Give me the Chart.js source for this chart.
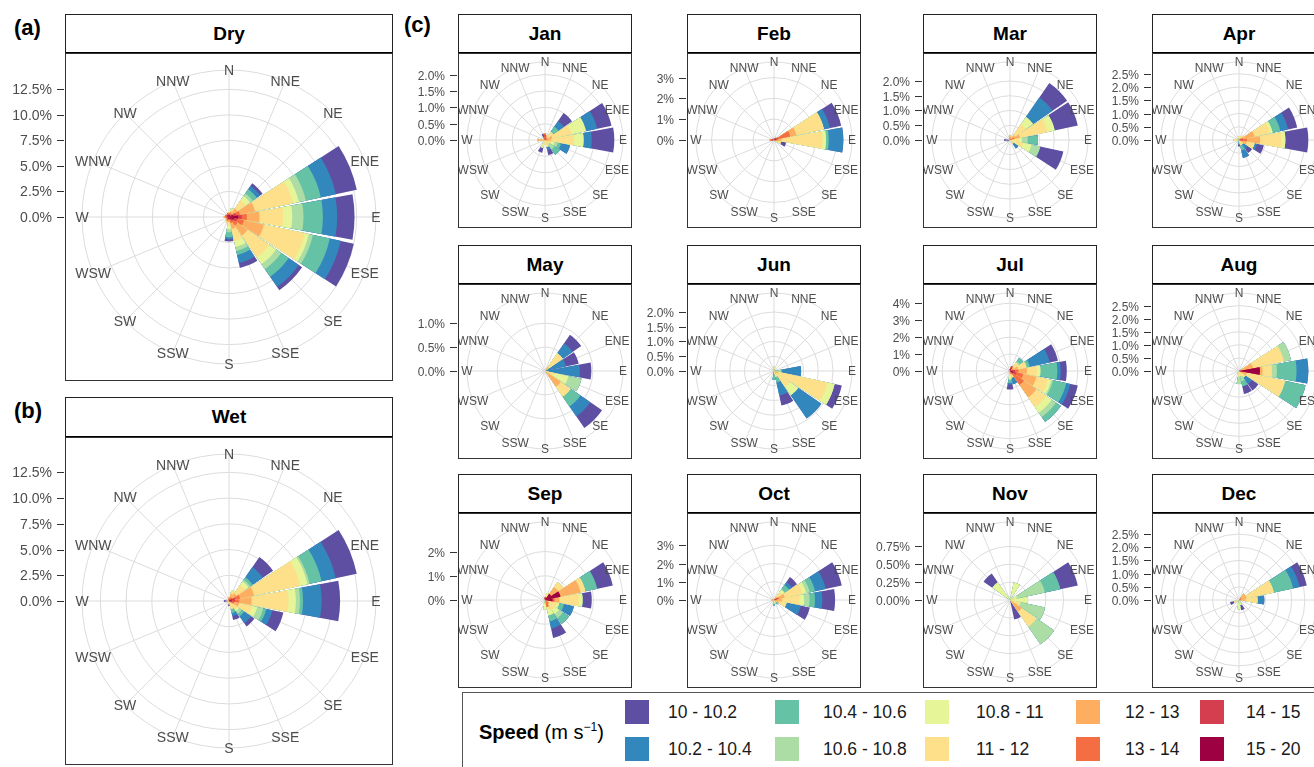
<!DOCTYPE html>
<html>
<head>
<meta charset="utf-8">
<script src="https://cdn.jsdelivr.net/npm/chart.js@4.4.0/dist/chart.umd.min.js"></script>
<style>
  body { margin: 0; width: 1314px; height: 767px; overflow: hidden; background: #fff; position: relative;
         font-family: "Liberation Sans", Arial, sans-serif; }
  canvas { position: absolute; }
  .strip { position: absolute; box-sizing: border-box; border: 1px solid #222; border-bottom: 2px solid #000;
           background: #fff; display: flex; align-items: center; justify-content: center;
           font-weight: bold; font-size: 19px; color: #000; z-index: 2; }
  .box { position: absolute; box-sizing: border-box; border: 1px solid #333; pointer-events: none; z-index: 2; }
  .tag { position: absolute; font-weight: bold; font-size: 22px; color: #000; }
  .legend { position: absolute; left: 462px; top: 692px; width: 900px; height: 100px; box-sizing: border-box;
            border: 1px solid #555; background: #fff; }
  .legtitle { position: absolute; left: 479px; top: 720px; font-size: 20px; color: #000; }
  .sw { position: absolute; width: 24px; height: 24px; }
  .lt { position: absolute; font-size: 17.5px; color: #1a1a1a; line-height: 24px; }
</style>
</head>
<body>
<div class="tag" style="left:14px;top:15px;">(a)</div>
<div class="tag" style="left:14px;top:398px;">(b)</div>
<div class="tag" style="left:404px;top:12px;">(c)</div>
<div class="legend"></div>
<div class="legtitle"><b>Speed</b> (m s<sup style="font-size:12px">−1</sup>)</div>
<div id="root"></div>
<script>
// wind directions, clockwise from north
const directions = ['N','NNE','NE','ENE','E','ESE','SE','SSE','S','SSW','SW','WSW','W','WNW','NW','NNW'];
// speed classes (m/s), legend order
const speedBins = ['10 - 10.2','10.2 - 10.4','10.4 - 10.6','10.6 - 10.8','10.8 - 11','11 - 12','12 - 13','13 - 14','14 - 15','15 - 20'];
const binColors = ['#5E4FA2','#3288BD','#66C2A5','#ABDDA4','#E6F598','#FEE08B','#FDAE61','#F46D43','#D53E4F','#9E0142'];

// frequency (%) : one row per direction (N ... NNW), one column per speed class (10-10.2 ... 15-20)
const dry = [
  [0,0,0,0,0,0,0.1,0.1,0.1,0.2],
  [0,0,0,0,0.1,0.2,0.2,0.1,0.1,0.2],
  [0.3,0.4,0.5,0.3,0.5,1.0,0.6,0.2,0.1,0.1],
  [2.1,1.5,1.5,0.7,0.6,3.8,1.5,0.4,0.3,0.4],
  [1.7,1.4,1.9,1.1,0.9,2.3,1.25,0.5,0.35,0.9],
  [1.3,1.1,1.7,0.4,0.4,4.1,2.0,0.7,0.3,0.5],
  [0.4,1.2,0.9,0.6,0.8,2.6,1.2,0.5,0.2,0.3],
  [0.5,0.8,0.4,0.4,0.6,1.2,0.6,0.3,0.1,0.2],
  [0.2,0.2,0.5,0.3,0.4,0.3,0.2,0.1,0.1,0.1],
  [0,0,0,0,0,0.1,0.1,0.1,0.1,0.2],
  [0,0,0,0,0,0,0.1,0.1,0.1,0.1],
  [0,0,0,0,0,0,0,0.1,0.1,0.1],
  [0,0,0,0,0,0,0.1,0.1,0.1,0.2],
  [0,0,0,0,0,0,0,0.1,0.1,0.2],
  [0,0,0,0,0,0,0,0,0.1,0.2],
  [0.1,0,0,0,0,0,0,0,0.1,0.2]
];
const wet = [
  [0,0,0,0,0,0,0.1,0.1,0.1,0.1],
  [0,0,0,0,0.1,0.3,0.3,0.2,0.1,0.1],
  [1.2,1.2,0.3,0.2,0.4,1.0,0.5,0.2,0.1,0.1],
  [2.1,1.4,1.2,0.2,0.7,4.6,1.4,0.5,0.3,0.3],
  [1.8,1.8,0.3,0.4,0.7,3.6,1.2,0.4,0.3,0.3],
  [1.1,0.6,0.3,0.6,0.5,1.3,0.5,0.3,0.1,0.1],
  [0.4,0.8,0.3,0.3,0.2,0.8,0.2,0,0,0],
  [0.4,0.3,0.4,0,0,0.5,0.3,0,0,0],
  [0.2,0,0,0,0,0.2,0.1,0,0,0],
  [0,0,0,0,0,0.1,0.1,0,0,0],
  [0,0,0,0,0,0,0.1,0,0,0],
  [0.2,0,0,0,0,0,0,0,0,0],
  [0.3,0,0,0,0,0.1,0.1,0,0,0],
  [0,0,0,0,0,0,0.1,0,0,0],
  [0,0,0,0,0,0,0.1,0,0,0],
  [0,0,0,0,0,0,0.1,0,0,0]
];
const jan = [
  [0,0,0,0,0,0,0,0.05,0.1,0.05],
  [0,0,0,0,0,0,0.05,0.05,0.05,0],
  [0.3,0.2,0.2,0,0,0.2,0.1,0,0,0],
  [0.45,0.35,0,0,0.45,0.6,0.15,0.05,0.03,0],
  [0.69,0.25,0,0,0.3,0.7,0.1,0.05,0.03,0],
  [0,0.28,0.1,0.1,0.1,0.2,0,0,0,0],
  [0,0,0.2,0.2,0,0.15,0,0,0,0],
  [0.15,0.1,0,0,0,0.2,0.02,0,0,0],
  [0,0,0,0,0.05,0.1,0,0,0,0],
  [0.15,0,0,0,0.15,0.1,0,0,0,0],
  [0,0,0,0,0,0,0,0,0,0],
  [0,0,0,0,0,0.05,0,0,0,0],
  [0,0,0,0,0,0,0.2,0.03,0,0],
  [0,0,0,0,0,0,0,0,0,0],
  [0,0,0,0,0,0,0,0.05,0,0],
  [0.15,0,0,0,0,0,0,0,0.05,0]
];
const feb = [
  [0,0,0,0,0,0,0,0,0.05,0.05],
  [0,0,0,0,0,0,0,0,0,0],
  [0,0,0,0,0,0,0,0.05,0.05,0.05],
  [0.55,0.3,0,0,0,1.35,0.3,0.6,0.1,0.1],
  [0,0.7,0.13,0,0.16,1.99,0.15,0.1,0.05,0.05],
  [0.25,0,0,0,0,0.35,0,0,0,0],
  [0,0,0,0,0,0.1,0,0,0,0],
  [0,0,0,0,0,0,0,0,0,0],
  [0,0,0,0,0,0,0,0,0,0],
  [0,0,0,0,0,0,0,0,0,0],
  [0,0,0,0,0,0,0,0,0,0],
  [0,0,0,0,0,0,0,0,0,0],
  [0,0,0,0,0,0,0,0.05,0.05,0.1],
  [0,0,0,0,0,0,0,0,0,0],
  [0,0,0,0,0,0,0,0,0,0],
  [0,0,0,0,0,0,0,0,0,0]
];
const mar = [
  [0,0,0,0,0,0,0.05,0.05,0.05,0],
  [0,0,0,0,0,0.05,0.05,0,0,0],
  [0.6,0.8,0,0,0.3,0.45,0.15,0.05,0,0],
  [0.8,0,0,0,0.25,0.95,0.2,0.1,0.05,0],
  [0,0,0.35,0.2,0.1,0.3,0,0,0,0],
  [0.8,0,0,0.3,0.3,0.45,0,0,0,0],
  [0,0.2,0,0,0,0.15,0,0,0,0],
  [0,0,0,0,0,0,0,0,0,0],
  [0,0,0,0,0,0,0,0,0,0],
  [0,0,0,0,0,0,0,0,0,0],
  [0,0,0,0,0,0,0,0,0,0],
  [0.1,0,0,0,0,0,0,0,0,0],
  [0.2,0,0,0,0,0,0,0,0,0],
  [0,0,0,0,0,0,0,0,0,0],
  [0,0,0,0,0,0,0,0,0,0],
  [0,0,0,0,0,0,0,0,0,0]
];
const apr = [
  [0,0,0,0,0,0.15,0,0,0,0],
  [0,0,0,0,0,0.1,0.05,0,0,0],
  [0,0,0,0,0,0.1,0.1,0,0,0],
  [0.35,0.3,0.3,0,0.1,0.6,0.45,0.1,0.05,0],
  [0.87,0,0,0,0.15,0.8,0.5,0.15,0.1,0.05],
  [0.26,0.1,0,0,0,0.3,0.3,0,0,0],
  [0.2,0.2,0,0,0,0.2,0,0,0,0],
  [0,0.3,0.2,0,0,0.2,0,0,0,0],
  [0.1,0,0.1,0,0,0.05,0,0,0,0],
  [0,0,0,0,0,0,0,0,0,0],
  [0,0,0,0,0,0,0,0,0,0],
  [0,0,0,0,0,0,0,0,0,0],
  [0,0,0,0,0,0.2,0,0,0,0],
  [0,0,0,0,0,0,0,0,0,0],
  [0,0,0,0,0,0,0,0,0,0],
  [0,0,0,0,0,0,0,0,0,0]
];
const may = [
  [0,0,0,0,0,0,0,0,0,0],
  [0,0,0,0,0,0,0,0,0,0],
  [0.22,0.25,0,0,0,0.35,0.1,0,0,0],
  [0.27,0.45,0,0,0,0,0,0,0,0],
  [0.24,0.73,0,0,0,0,0,0,0,0],
  [0,0,0,0.28,0.3,0.2,0,0,0,0],
  [0.3,0.25,0.25,0,0,0.25,0.4,0,0,0],
  [0,0,0,0,0,0,0,0,0,0],
  [0,0,0,0,0,0,0,0,0,0],
  [0,0,0,0,0,0,0,0,0,0],
  [0,0,0,0,0,0,0,0,0,0],
  [0,0,0,0,0,0,0,0,0,0],
  [0,0,0,0,0,0,0,0,0,0],
  [0,0,0,0,0,0,0,0,0,0],
  [0,0,0,0,0,0,0,0,0,0],
  [0,0,0,0,0,0,0,0,0,0]
];
const jun = [
  [0,0,0,0,0,0.15,0,0,0,0],
  [0,0,0,0,0,0,0,0,0,0],
  [0,0,0,0,0,0,0,0,0,0],
  [0,0,0,0,0,0,0,0,0,0],
  [0,0.67,0,0.25,0,0,0,0,0,0],
  [0.25,0,0,0,0.25,1.7,0.15,0,0,0],
  [0,0.95,0,0,0.35,0.55,0.1,0,0,0],
  [0.35,0.45,0.2,0,0,0.2,0,0,0,0],
  [0,0,0.3,0,0,0,0,0,0,0],
  [0,0,0,0,0,0,0,0,0,0],
  [0,0,0,0,0,0,0,0,0,0],
  [0,0,0,0,0,0,0,0,0,0],
  [0,0,0,0,0,0,0,0,0,0],
  [0,0,0,0,0,0,0,0,0,0],
  [0,0,0,0,0,0,0,0,0,0],
  [0,0,0,0,0,0,0,0,0,0]
];
const jul = [
  [0,0,0,0,0,0,0,0,0,0.1],
  [0,0,0,0,0,0,0,0,0.1,0.2],
  [0,0,0.25,0.1,0,0.3,0.3,0,0,0],
  [0.5,1.2,0.2,0,0,0.5,0.3,0.1,0.1,0],
  [0.36,0.2,1.0,0,0.2,0.6,0.5,0.2,0.1,0.2],
  [0.45,0.25,0.8,0.1,0.2,0.7,0.8,0.4,0.2,0.2],
  [0,0,0.35,0.3,0.4,0.7,0.9,0.8,0.1,0.1],
  [0,0.4,0,0,0,0.2,0,0.2,0,0],
  [0.3,0.1,0.2,0,0.2,0.3,0,0,0,0],
  [0,0,0,0,0,0,0,0,0,0],
  [0,0,0,0,0,0,0,0,0,0],
  [0,0,0,0,0,0,0,0,0,0],
  [0.1,0,0,0,0,0,0,0,0,0],
  [0,0,0,0,0,0,0,0,0,0],
  [0,0,0,0,0,0,0,0,0,0],
  [0,0,0,0,0,0,0,0,0,0]
];
const aug = [
  [0,0,0,0,0,0,0,0,0,0],
  [0,0,0,0,0,0,0,0,0,0],
  [0,0,0,0,0,0,0,0,0,0],
  [0,0,0,0.28,0,1.2,0.5,0,0.05,0],
  [0,0.45,0.75,0.2,0,0.35,0.1,0,0,0.8],
  [0,0,0.8,0,0,1.5,0.2,0.1,0,0],
  [0.3,0.3,0,0,0,0.3,0,0,0,0],
  [0.3,0,0.2,0.2,0,0.2,0,0,0,0],
  [0,0,0,0.3,0,0.2,0,0,0,0],
  [0,0,0,0,0,0.1,0,0,0,0],
  [0,0,0,0,0,0,0,0,0,0],
  [0,0,0,0,0,0,0,0,0,0],
  [0,0,0,0,0,0,0,0,0,0],
  [0,0,0,0,0,0,0,0,0,0],
  [0,0,0,0,0,0,0,0,0,0],
  [0,0,0,0,0,0,0,0,0,0]
];
const sep = [
  [0,0,0,0,0,0,0,0,0,0.1],
  [0,0,0,0,0,0.2,0,0,0,0.1],
  [0,0,0,0,0,0.25,0.35,0,0,0.3],
  [0.66,0,0.5,0,0,0.2,0.85,0,0,0.65],
  [0.38,0,0,0,0.15,0.8,0.2,0.05,0.05,0.3],
  [0,0.42,0.2,0,0.1,0.5,0,0,0,0],
  [0,0,0.3,0.2,0.2,0.3,0,0.2,0,0],
  [0.4,0.3,0.25,0,0.2,0.15,0,0.3,0,0],
  [0,0,0,0,0.3,0.1,0,0,0,0],
  [0,0,0,0,0,0,0,0,0,0],
  [0,0,0,0,0,0,0,0,0,0],
  [0,0,0,0,0,0,0,0,0,0],
  [0,0,0,0,0,0,0,0,0,0],
  [0,0,0,0,0,0,0,0,0,0],
  [0,0,0,0,0,0,0,0,0,0],
  [0,0,0,0,0,0,0,0,0,0]
];
const oct = [
  [0,0,0,0,0,0.05,0,0,0,0],
  [0,0,0,0,0,0,0.05,0.05,0,0],
  [0.33,0.2,0.3,0,0.2,0.3,0.2,0,0,0],
  [0.9,0.6,0.3,0.2,0.2,1.0,0.3,0.1,0.1,0.1],
  [0.7,0.4,0.3,0.3,0.25,0.95,0.3,0.1,0.05,0],
  [0.5,0.8,0,0,0,0.4,0.3,0,0,0],
  [0,0,0.2,0,0,0.1,0,0,0,0],
  [0,0,0,0,0.1,0.1,0,0,0,0],
  [0,0,0.1,0,0.2,0,0,0,0,0],
  [0,0,0,0,0,0,0,0,0,0],
  [0,0,0,0,0,0,0,0,0,0],
  [0,0,0,0,0,0,0,0,0,0],
  [0,0,0,0,0,0,0.05,0.1,0,0],
  [0,0,0,0,0,0,0,0,0,0],
  [0,0,0,0,0,0,0,0,0,0],
  [0,0,0,0,0,0,0,0,0,0]
];
const nov = [
  [0,0,0,0,0,0,0,0,0,0],
  [0,0,0,0,0.25,0,0,0,0,0],
  [0,0,0,0,0,0,0,0,0,0],
  [0.25,0,0.22,0.4,0.05,0.05,0,0,0,0],
  [0,0,0,0,0.25,0,0,0,0,0],
  [0,0,0,0.35,0,0.15,0,0,0,0],
  [0,0,0,0.3,0,0.25,0.2,0,0,0],
  [0.28,0,0,0,0,0,0,0,0,0],
  [0,0,0,0,0,0,0,0,0,0],
  [0,0,0,0,0,0,0,0,0,0],
  [0,0,0,0,0,0,0,0,0,0],
  [0,0,0,0,0,0,0,0,0,0],
  [0,0,0,0,0,0,0,0,0,0],
  [0,0,0,0,0,0,0,0,0,0],
  [0.15,0,0,0,0.3,0,0,0,0,0],
  [0,0,0,0,0,0,0,0,0,0]
];
const dec = [
  [0,0,0,0,0,0,0,0,0,0],
  [0,0,0,0,0,0,0,0,0,0],
  [0,0,0,0,0,0,0.2,0.1,0,0],
  [0.28,0.25,0.75,0,0,1.05,0.2,0.1,0,0],
  [0,0.26,0,0,0,0.45,0.2,0.05,0,0],
  [0,0,0,0,0,0,0,0,0,0],
  [0,0,0,0,0,0,0,0,0,0],
  [0.2,0,0,0,0.2,0,0,0,0,0],
  [0,0,0,0,0.35,0,0,0,0,0],
  [0,0,0,0,0,0,0,0,0,0],
  [0,0,0,0,0,0,0,0,0,0],
  [0.15,0,0,0,0,0.2,0,0,0,0],
  [0,0,0,0,0,0,0,0,0,0],
  [0,0,0,0,0,0,0,0,0,0],
  [0,0,0,0,0,0,0,0,0,0],
  [0,0,0,0,0,0,0,0,0,0]
];

// radial axis breaks (%) and decimals shown
const ticksBig = [0, 2.5, 5, 7.5, 10, 12.5];
const ticksHalf2 = [0, 0.5, 1, 1.5, 2];
const ticksHalf25 = [0, 0.5, 1, 1.5, 2, 2.5];
const ticksHalf1 = [0, 0.5, 1];
const ticksOne2 = [0, 1, 2];
const ticksOne3 = [0, 1, 2, 3];
const ticksOne4 = [0, 1, 2, 3, 4];
const ticksQuarter = [0, 0.25, 0.5, 0.75];

// layout of the panels
const colX = [458, 687, 923, 1152];
const rowStrip = [14, 245, 474];
const rowBox = [53, 284, 513];
const panels = [
  { title: 'Dry', freq: dry, ticks: ticksBig, dec: 1, x: 65, strip: 14, y: 53, w: 328, h: 328, axisW: 65, font: 14 },
  { title: 'Wet', freq: wet, ticks: ticksBig, dec: 1, x: 65, strip: 397, y: 437, w: 328, h: 328, axisW: 65, font: 14 },
  { title: 'Jan', freq: jan, ticks: ticksHalf2, dec: 1, c: 0, r: 0 },
  { title: 'Feb', freq: feb, ticks: ticksOne3, dec: 0, c: 1, r: 0 },
  { title: 'Mar', freq: mar, ticks: ticksHalf2, dec: 1, c: 2, r: 0 },
  { title: 'Apr', freq: apr, ticks: ticksHalf25, dec: 1, c: 3, r: 0 },
  { title: 'May', freq: may, ticks: ticksHalf1, dec: 1, c: 0, r: 1 },
  { title: 'Jun', freq: jun, ticks: ticksHalf2, dec: 1, c: 1, r: 1 },
  { title: 'Jul', freq: jul, ticks: ticksOne4, dec: 0, c: 2, r: 1 },
  { title: 'Aug', freq: aug, ticks: ticksHalf25, dec: 1, c: 3, r: 1 },
  { title: 'Sep', freq: sep, ticks: ticksOne2, dec: 0, c: 0, r: 2 },
  { title: 'Oct', freq: oct, ticks: ticksOne3, dec: 0, c: 1, r: 2 },
  { title: 'Nov', freq: nov, ticks: ticksQuarter, dec: 2, c: 2, r: 2 },
  { title: 'Dec', freq: dec, ticks: ticksHalf25, dec: 1, c: 3, r: 2 }
];

// 16 bars with a small gap; north bar is split in two halves so that
// bar centres sit on the compass spokes
const GAP = 1.6;
const BAR = 22.5 - GAP;
const sectors = [[0, BAR / 2]];
for (let d = 1; d < 16; d++) { sectors.push([-1, GAP]); sectors.push([d, BAR]); }
sectors.push([-1, GAP]); sectors.push([0, BAR / 2]);
const sectorAngles = sectors.map(s => s[1]);
// 32 spoke positions, every other one carries a direction name
const spokeLabels = [];
directions.forEach(d => { spokeLabels.push(d); spokeLabels.push(''); });

const roseAxis = {
  id: 'roseAxis',
  afterDatasetsDraw(chart, args, o) {
    const r = chart.scales.r;
    const ctx = chart.ctx;
    ctx.save();
    ctx.font = o.font + 'px "Liberation Sans", Arial, sans-serif';
    ctx.fillStyle = '#4D4D4D';
    // direction names on the outer ring, clipped to the panel
    ctx.save();
    ctx.beginPath();
    ctx.rect(o.left, 0, o.w, o.h);
    ctx.clip();
    ctx.textAlign = 'center';
    ctx.textBaseline = 'middle';
    chart.data.labels.forEach((lab, i) => {
      if (!lab) return;
      const p = r.getPointPositionForValue(i, r.max);
      ctx.fillText(lab, p.x, p.y + 1);
    });
    ctx.restore();
    // radial axis on the left of the panel
    ctx.strokeStyle = '#333';
    ctx.lineWidth = 1;
    ctx.textAlign = 'right';
    ctx.textBaseline = 'middle';
    o.ticks.forEach(v => {
      const y = Math.round(r.yCenter - r.getDistanceFromCenterForValue(v)) + 0.5;
      ctx.beginPath();
      ctx.moveTo(o.left - 8, y);
      ctx.lineTo(o.left - 1, y);
      ctx.stroke();
      ctx.fillText(v.toFixed(o.dec) + '%', o.left - 13, y + 1);
    });
    ctx.restore();
  }
};

const root = document.getElementById('root');
panels.forEach(p => {
  if (p.c !== undefined) {
    p.x = colX[p.c]; p.strip = rowStrip[p.r]; p.y = rowBox[p.r];
    p.w = 174; p.h = 175; p.axisW = 60; p.font = 12;
  }
  const strip = document.createElement('div');
  strip.className = 'strip';
  strip.style.cssText = `left:${p.x}px;top:${p.strip}px;width:${p.w}px;height:${p.y - p.strip + 1}px;`;
  strip.textContent = p.title;
  root.appendChild(strip);
  const box = document.createElement('div');
  box.className = 'box';
  box.style.cssText = `left:${p.x}px;top:${p.y}px;width:${p.w}px;height:${p.h}px;`;
  root.appendChild(box);

  const cv = document.createElement('canvas');
  const cw = p.w + p.axisW;
  cv.width = cw; cv.height = p.h;
  cv.style.cssText = `left:${p.x - p.axisW}px;top:${p.y}px;width:${cw}px;height:${p.h}px;`;
  root.appendChild(cv);

  // totals set the radial range: longest bar reaches 0.4 of the panel, the outer ring 0.45
  const totals = p.freq.map(row => row.reduce((a, b) => a + b, 0));
  const rangeMax = Math.max(...totals);
  const ringMax = rangeMax * 1.125;
  const R = 0.45 * Math.min(p.w, p.h);
  const padX = (p.w - 2 * R) / 2, padY = (p.h - 2 * R) / 2;

  // stacked from the centre: 15-20 innermost ... 10-10.2 outermost
  const datasets = [];
  for (let b = speedBins.length - 1; b >= 0; b--) {
    const cum = p.freq.map(row => row.slice(b).reduce((a, v) => a + v, 0));
    datasets.push({
      label: speedBins[b],
      data: sectors.map(s => s[0] < 0 ? 0 : cum[s[0]]),
      backgroundColor: binColors[b],
      borderWidth: 0,
      angle: c => sectorAngles[c.dataIndex]
    });
  }
  const ringValues = p.ticks.concat([ringMax]);

  new Chart(cv, {
    type: 'polarArea',
    data: { labels: spokeLabels, datasets: datasets },
    options: {
      responsive: false,
      animation: false,
      events: [],
      layout: { padding: { left: p.axisW + padX, right: padX, top: padY, bottom: padY } },
      plugins: {
        legend: { display: false },
        tooltip: { enabled: false },
        roseAxis: { left: p.axisW, w: p.w, h: p.h, ticks: p.ticks, dec: p.dec, font: p.font }
      },
      scales: {
        r: {
          min: 0,
          max: ringMax,
          startAngle: 0,
          ticks: { display: false },
          afterBuildTicks: s => { s.ticks = ringValues.map(v => ({ value: v })); },
          grid: { circular: true, color: '#DCDCDC', lineWidth: 1 },
          angleLines: { display: true, color: '#DCDCDC', lineWidth: c => (c.index % 2 === 0 ? 1 : 0) },
          pointLabels: { display: false }
        }
      }
    },
    plugins: [roseAxis]
  });
});

// legend: two rows, five columns
const swX = [625, 775, 925, 1076, 1200];
const txX = [668, 823, 976, 1125, 1246];
const rowY = [700, 737];
speedBins.forEach((lab, i) => {
  const c = Math.floor(i / 2), r = i % 2;
  const sw = document.createElement('div');
  sw.className = 'sw';
  sw.style.cssText = `left:${swX[c]}px;top:${rowY[r]}px;background:${binColors[i]};`;
  root.appendChild(sw);
  const t = document.createElement('div');
  t.className = 'lt';
  t.style.cssText = `left:${txX[c]}px;top:${rowY[r]}px;`;
  t.textContent = lab;
  root.appendChild(t);
});
</script>
</body>
</html>
